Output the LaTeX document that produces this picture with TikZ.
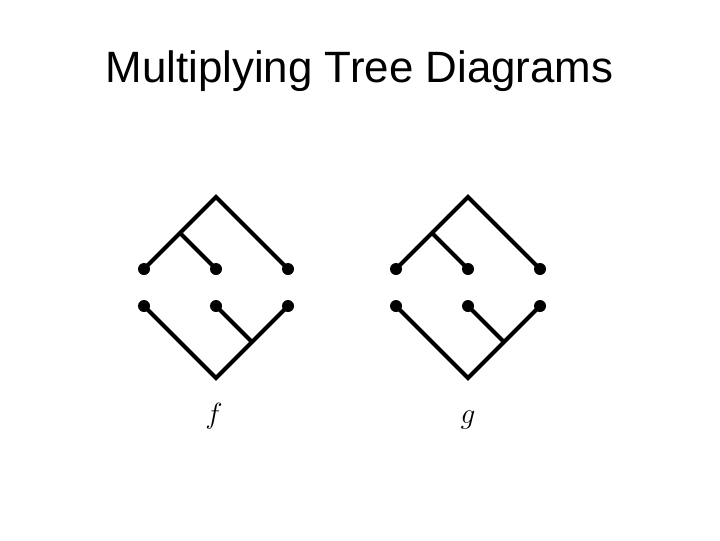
\documentclass[tikz,border=0pt]{standalone}
\usepackage{amsmath}
\usepackage{fontspec}
\setmainfont{Liberation Sans}
\usepackage{tikz}

\begin{document}
\begin{tikzpicture}[x=0.025cm,y=-0.025cm,
		leaf/.style={circle,fill=black,inner sep=0pt,minimum size=0.3cm},
		branch/.style={line width=0.1cm,line join=miter}]
		\useasboundingbox (0,0) rectangle (720,540);
		\node[anchor=base,font=\fontsize{31.2}{36}\selectfont] (title) at (359.5,82.3) {Multiplying Tree Diagrams};
		% f
		\coordinate (ftop) at (216,197);
		\coordinate (ftopb) at (180,233);
		\node[leaf] (fa) at (144,269) {};
		\node[leaf] (fb) at (216,269) {};
		\node[leaf] (fc) at (288,269) {};
		\node[leaf] (fd) at (144,306) {};
		\node[leaf] (fe) at (216,306) {};
		\node[leaf] (ff) at (288,306) {};
		\coordinate (fbot) at (216,378);
		\coordinate (fbotb) at (252,342);
		\draw[branch] (fa.center) -- (ftop) -- (fc.center);
		\draw[branch] (ftopb) -- (fb.center);
		\draw[branch] (fd.center) -- (fbot) -- (ff.center);
		\draw[branch] (fbotb) -- (fe.center);
		% g
		\coordinate (gtop) at (468,197);
		\coordinate (gtopb) at (432,233);
		\node[leaf] (ga) at (396,269) {};
		\node[leaf] (gb) at (468,269) {};
		\node[leaf] (gc) at (540,269) {};
		\node[leaf] (gd) at (396,306) {};
		\node[leaf] (ge) at (468,306) {};
		\node[leaf] (gf) at (540,306) {};
		\coordinate (gbot) at (468,378);
		\coordinate (gbotb) at (504,342);
		\draw[branch] (ga.center) -- (gtop) -- (gc.center);
		\draw[branch] (gtopb) -- (gb.center);
		\draw[branch] (gd.center) -- (gbot) -- (gf.center);
		\draw[branch] (gbotb) -- (ge.center);
		\node[anchor=base,font=\fontsize{20}{24}\selectfont] (flabel) at (214,423) {$f$};
		\node[anchor=base,font=\fontsize{20}{24}\selectfont] (glabel) at (468,423) {$g$};
	\end{tikzpicture}
\end{document}
